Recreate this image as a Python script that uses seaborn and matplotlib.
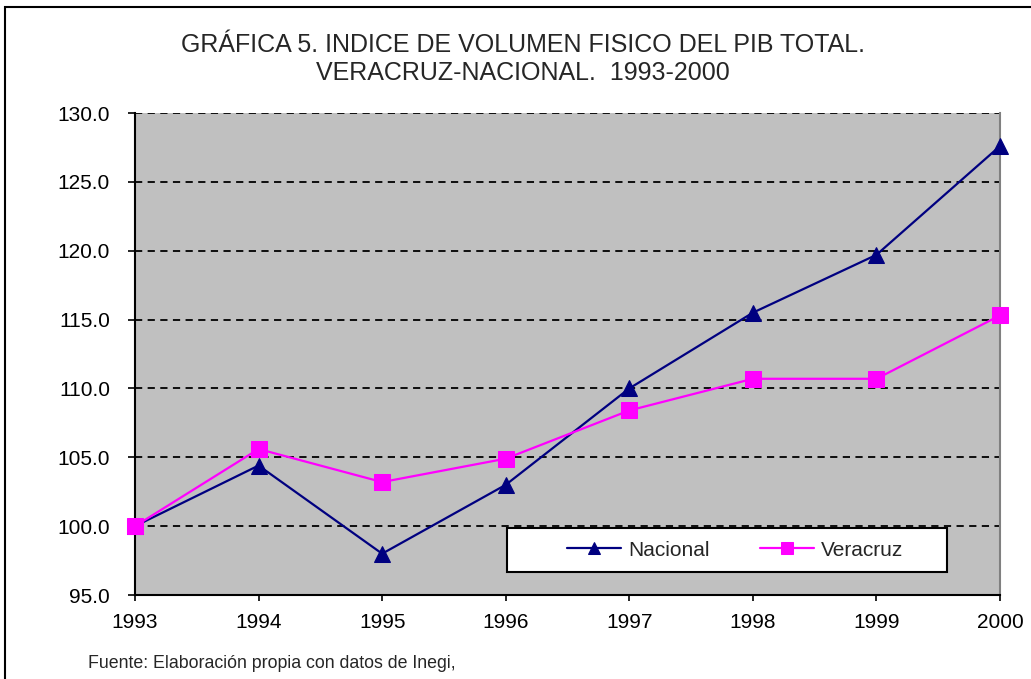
import matplotlib
matplotlib.use("Agg")
import matplotlib.pyplot as plt
import seaborn as sns
import pandas as pd
from matplotlib.patches import Rectangle

years = [1993, 1994, 1995, 1996, 1997, 1998, 1999, 2000]
nacional = [100.0, 104.4, 98.0, 103.0, 110.0, 115.5, 119.7, 127.6]
veracruz = [100.0, 105.6, 103.2, 104.9, 108.4, 110.7, 110.7, 115.3]
series_names = ["Nacional", "Veracruz"]
y_ticks = [95.0, 100.0, 105.0, 110.0, 115.0, 120.0, 125.0, 130.0]
title = "GRÁFICA 5. INDICE DE VOLUMEN FISICO DEL PIB TOTAL.\nVERACRUZ-NACIONAL.  1993-2000"
source = "Fuente: Elaboración propia con datos de Inegi,"

sns.set_style("white")
plt.rcParams["font.family"] = ["Liberation Sans", "DejaVu Sans"]

df = pd.DataFrame({"year": years * 2,
                   "value": nacional + veracruz,
                   "serie": [series_names[0]] * len(years) + [series_names[1]] * len(years)})

fig = plt.figure(figsize=(10.31, 6.79), dpi=100)
fig.patch.set_facecolor("white")
fig.patches.append(Rectangle((5 / 1031, -0.1), 1.2, (1 - 7 / 679) + 0.1,
                             transform=fig.transFigure, fill=False,
                             edgecolor="black", linewidth=1.5, zorder=0))

ax = fig.add_axes([135 / 1031, 1 - 595 / 679, 865 / 1031, 482 / 679])
ax.set_facecolor("#C0C0C0")

styles = {"Nacional": ("#000080", "^"), "Veracruz": ("#FF00FF", "s")}
for name in series_names:
    col, mk = styles[name]
    sns.lineplot(data=df[df["serie"] == name], x="year", y="value", ax=ax,
                 color=col, marker=mk, markersize=12, markeredgecolor=col,
                 linewidth=1.6, label=name, zorder=3, clip_on=False)

ax.set_xlim(1993, 2000)
ax.set_ylim(95, 130)
ax.set_xticks(years)
ax.set_xticklabels([str(y) for y in years])
ax.set_yticks(y_ticks)
ax.set_yticklabels([f"{v:.1f}" for v in y_ticks])
ax.set_xlabel("")
ax.set_ylabel("")
for v in y_ticks[1:]:
    ax.axhline(v, color="black", linestyle=(0, (4, 3)), linewidth=1.3, zorder=1)

ax.tick_params(axis="both", labelsize=15, colors="black", direction="out",
               width=1.2, left=True, bottom=True)
ax.tick_params(axis="x", pad=9, length=4)
ax.tick_params(axis="y", pad=13, length=5)
for s in ["left", "bottom"]:
    ax.spines[s].set_color("black")
    ax.spines[s].set_linewidth(1.5)
ax.spines["right"].set_color("#808080")
ax.spines["right"].set_linewidth(1.5)
ax.spines["top"].set_visible(False)

# legend box (frame drawn separately to match the fixed box size)
lx0, lx1 = (507 - 135) / 865, (947 - 135) / 865
ly0, ly1 = (595 - 572) / 482, (595 - 528) / 482
ax.add_patch(Rectangle((lx0, ly0), lx1 - lx0, ly1 - ly0, transform=ax.transAxes,
                       facecolor="white", edgecolor="black", linewidth=1.5,
                       zorder=5, clip_on=False))
leg = ax.legend(loc="center", bbox_to_anchor=((735 - 135) / 865, (ly0 + ly1) / 2),
                ncol=2, frameon=False, fontsize=15, handlelength=2.6,
                markerscale=0.7, borderpad=0.2, columnspacing=2.4,
                handletextpad=0.35)
leg.set_zorder(6)

fig.text(523 / 1031, 1 - 59 / 679, title, ha="center", va="center",
         fontsize=18, linespacing=1.22)
fig.text(88 / 1031, 1 - 663 / 679, source, ha="left", va="center", fontsize=12.8)

fig.savefig("out.png", dpi=100)
